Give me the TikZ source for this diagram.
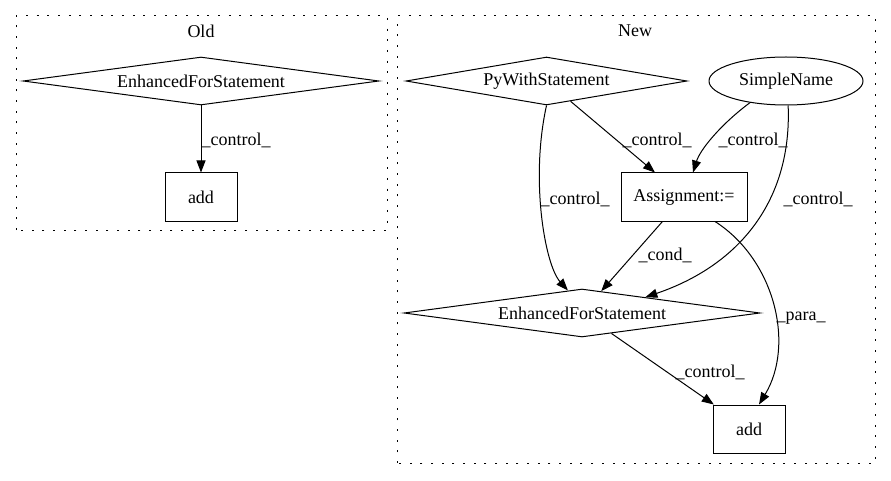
\documentclass[tikz,border=0pt]{standalone}
\usepackage{fontspec}
\setmainfont{Liberation Serif}
\usetikzlibrary{shapes.geometric,arrows.meta}

\tikzset{
  every node/.style={font=\fontsize{18}{21}\selectfont},
  cluster/.style={draw, line width=1pt, dash pattern=on 2pt off 8.67pt},
  boxnode/.style={draw, line width=1pt, rectangle, minimum height=48pt, inner sep=0pt},
  diam/.style={draw, line width=1pt, diamond, aspect=7, inner sep=0pt, minimum height=48pt},
  ell/.style={draw, line width=1pt, ellipse, inner sep=0pt, minimum width=154pt, minimum height=48pt},
  edge/.style={line width=1pt, -{Triangle[length=12pt,width=9pt]}},
  lbl/.style={inner sep=0pt, anchor=center}
}

\begin{document}
\begin{tikzpicture}[x=1pt,y=1pt]
  \useasboundingbox (0,0) rectangle (891,480);

  % clusters
  \draw[cluster] (16,250) rectangle (387,464);
  \node[lbl] (oldtitle) at (201,449) {Old};
  \draw[cluster] (397,17) rectangle (875,464);
  \node[lbl] (newtitle) at (635,449) {New};

  % Old graph
  \node[diam, minimum width=356pt] (oe) at (201,399) {EnhancedForStatement};
  \node[boxnode, minimum width=72pt] (oa) at (201,283) {add};
  \draw[edge] (oe) -- (oa);
  \node[lbl] (l1) at (236,340) {\_control\_};

  % New graph
  \node[diam, minimum width=281pt] (py) at (546.5,399) {PyWithStatement};
  \node[ell] (sn) at (786,399) {SimpleName};
  \node[boxnode, minimum width=126pt] (asg) at (684,283) {Assignment:=};
  \node[diam, minimum width=356pt] (ne) at (582,167) {EnhancedForStatement};
  \node[boxnode, minimum width=72pt] (na) at (749,51) {add};

  \draw[edge] (py) -- (asg);
  \node[lbl] (l2) at (657,340) {\_control\_};

  \draw[edge] (sn.211) .. controls (720,355) and (700,330) .. ([xshift=9pt]asg.north);
  \node[lbl] (l3) at (753,340) {\_control\_};

  \draw[edge] (py.south) .. controls (530,300) and (545,215) .. (ne.122);
  \node[lbl] (l4) at (575,281) {\_control\_};

  \draw[edge] (sn.-85) .. controls (792,280) and (740,215) .. (ne.14);
  \node[lbl] (l5) at (818,281) {\_control\_};

  \draw[edge] (asg) -- (ne);
  \node[lbl] (l6) at (665,225) {\_cond\_};

  \draw[edge] ([xshift=31pt]asg.south) .. controls (775,220) and (795,135) .. ([xshift=10pt]na.north);
  \node[lbl] (l7) at (801,162) {\_para\_};

  \draw[edge] (ne) -- (na);
  \node[lbl] (l8) at (710,108) {\_control\_};
\end{tikzpicture}
\end{document}
